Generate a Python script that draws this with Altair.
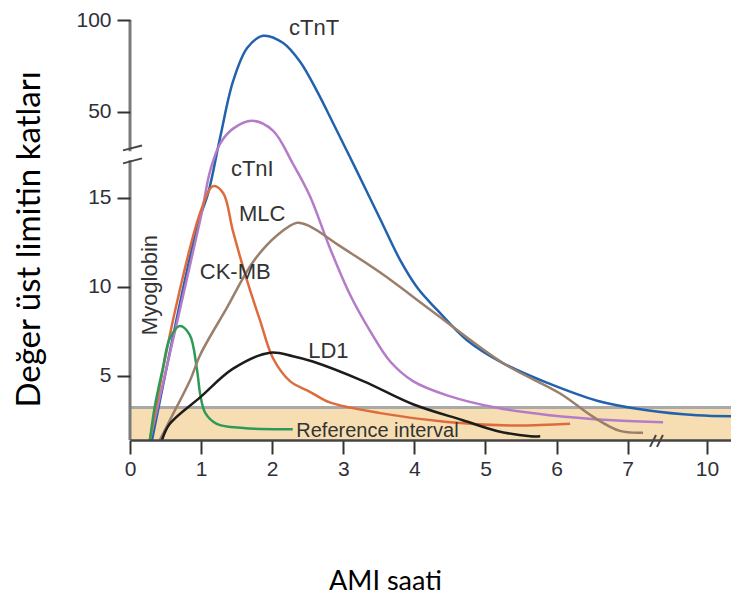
import altair as alt
import pandas as pd

# ---------------- data (hours after AMI, multiples of URL) ----------------
series_names = ["cTnT", "cTnI", "CK-MB", "Myoglobin", "MLC", "LD1"]
series_colors = ["#2262ad", "#b47cc8", "#de6b3d", "#2e9a57", "#9a7f6c", "#1c1c1c"]

ctnt_h = [0.31, 0.96, 1.10, 1.27, 1.45, 1.65, 1.87, 2.15, 2.39, 2.63, 2.84, 3.17, 3.52, 3.80, 4.05, 4.32, 4.74, 5.25, 5.87, 6.57, 7.73, 9.62, 11.2]
ctnt_v = [1.39, 13.6, 17.0, 39.9, 66.7, 84.9, 91.4, 87.6, 77.4, 61.3, 46.4, 27.1, 13.8, 11.5, 9.9, 8.7, 7.0, 5.7, 4.6, 3.6, 3.06, 2.78, 2.72]

ctni_h = [0.28, 0.99, 1.13, 1.27, 1.45, 1.72, 2.01, 2.29, 2.53, 2.81, 3.09, 3.38, 3.66, 3.98, 4.46, 5.16, 5.87, 6.79, 8.34]
ctni_v = [1.39, 13.8, 26.3, 37.2, 43.2, 46.4, 42.4, 29.0, 15.8, 12.2, 9.6, 7.5, 5.8, 4.7, 3.9, 3.2, 2.8, 2.5, 2.39]

ckmb_h = [0.28, 0.62, 0.99, 1.17, 1.31, 1.45, 1.65, 1.83, 2.01, 2.25, 2.53, 2.81, 3.52, 4.46, 5.39, 6.19]
ckmb_v = [1.39, 8.4, 14.2, 19.8, 17.0, 13.1, 10.3, 8.1, 6.0, 4.7, 4.1, 3.5, 2.9, 2.4, 2.2, 2.3]

myo_h = [0.28, 0.35, 0.46, 0.56, 0.70, 0.84, 0.94, 0.99, 1.06, 1.22, 1.59, 2.29]
myo_v = [1.39, 3.3, 5.4, 7.1, 7.8, 7.3, 5.4, 3.9, 2.9, 2.3, 2.06, 2.0]

mlc_h = [0.42, 0.56, 0.84, 0.99, 1.36, 1.73, 2.07, 2.35, 2.53, 2.95, 3.52, 4.26, 5.25, 6.05, 6.51, 6.89, 7.58]
mlc_v = [1.39, 2.5, 4.7, 6.2, 8.8, 11.4, 12.9, 13.6, 13.4, 12.3, 10.8, 8.6, 5.7, 4.0, 2.7, 1.9, 1.8]

ld1_h = [0.45, 0.56, 0.99, 1.45, 1.97, 2.29, 2.57, 3.28, 3.98, 4.68, 5.16, 5.63, 5.77]
ld1_v = [1.39, 2.3, 3.8, 5.4, 6.3, 6.1, 5.8, 4.7, 3.4, 2.5, 1.9, 1.6, 1.6]

ref_upper = 3.22

x_ticks = [0, 1, 2, 3, 4, 5, 6, 7, 10]
y_ticks = [5, 10, 15, 50, 100]

label_text = ["cTnT", "cTnI", "MLC", "CK-MB", "LD1"]
label_h = [2.59, 1.72, 1.86, 1.48, 2.79]
label_v = [92.0, 23.8, 13.7, 10.45, 6.0]

# ---------------- broken-axis transforms ----------------
D50, D100, D10 = 19.833, 25.0, 8.115
Y_MIN = 1.389
X_MAX = 8.453


def ty(v):
    if v <= 15:
        return v
    if v <= 50:
        return 15 + (v - 15) * (D50 - 15) / 35
    return D50 + (v - 50) * (D100 - D50) / 50


def tx(h):
    if h <= 7:
        return h
    return 7 + (h - 7) * (D10 - 7) / 3


rows = []
for name, hs, vs in [("cTnT", ctnt_h, ctnt_v), ("cTnI", ctni_h, ctni_v), ("CK-MB", ckmb_h, ckmb_v),
                     ("Myoglobin", myo_h, myo_v), ("MLC", mlc_h, mlc_v), ("LD1", ld1_h, ld1_v)]:
    for i, (h, v) in enumerate(zip(hs, vs)):
        rows.append({"s": name, "i": i, "x": tx(h), "y": ty(v)})
curves = pd.DataFrame(rows)

labels = pd.DataFrame({"t": label_text, "x": [tx(h) for h in label_h], "y": [ty(v) for v in label_v]})

xscale = alt.Scale(domain=[0, X_MAX], nice=False, zero=False)
yscale = alt.Scale(domain=[Y_MIN, D100], nice=False, zero=False)

xaxis = alt.Axis(
    values=[tx(v) for v in x_ticks],
    labelExpr="datum.value > 7.5 ? '10' : datum.label",
    title="AMI saati", titleFont="Lato", titleFontSize=27, titleFontWeight="normal",
    titleColor="#000", titleX=255, titleY=149, titleBaseline="alphabetic", titleAlign="center",
    labelFont="Liberation Sans", labelFontSize=21, labelColor="#2f2f3a", labelPadding=4,
    tickSize=14, tickWidth=2, tickColor="#333", domainColor="#444", domainWidth=2.5,
    grid=False, zindex=1, labelFlush=False, labelOverlap=False,
)
yaxis = alt.Axis(
    values=[ty(v) for v in y_ticks],
    labelExpr="datum.value > 22 ? '100' : datum.value > 18 ? '50' : datum.label",
    title="Değer üst limitin katları", titleFont="Lato", titleFontSize=33, titleFontWeight="normal",
    titleColor="#000", titleX=-101, titleY=219, titleBaseline="middle", titleAlign="center", titleAngle=270,
    labelFont="Liberation Sans", labelFontSize=21, labelColor="#2f2f3a", labelPadding=6,
    tickSize=13, tickWidth=2, tickColor="#333", domain=False,
    grid=False, zindex=1, labelFlush=False, labelOverlap=False,
)


def X(f="x"):
    return alt.X(f + ":Q", scale=xscale, axis=xaxis)


def Y(f="y"):
    return alt.Y(f + ":Q", scale=yscale, axis=yaxis)


band_df = pd.DataFrame({"x": [0.0], "x2": [X_MAX], "y": [Y_MIN], "y2": [ty(ref_upper)]})
band = alt.Chart(band_df).mark_rect(color="#f6deb2").encode(x=X(), x2="x2:Q", y=Y(), y2="y2:Q")
band_top = alt.Chart(band_df).mark_rule(color="#a9a9a9", strokeWidth=3).encode(x=X(), x2="x2:Q", y=Y("y2"))

lines = alt.Chart(curves).mark_line(interpolate="catmull-rom", strokeWidth=2.5).encode(
    x=X(), y=Y(),
    color=alt.Color("s:N", scale=alt.Scale(domain=series_names, range=series_colors), legend=None),
    order="i:Q",
)

text = alt.Chart(labels).mark_text(font="Liberation Sans", fontSize=22, color="#333",
                                   align="center", baseline="alphabetic").encode(x=X(), y=Y(), text="t:N")
myo_text = alt.Chart(pd.DataFrame({"t": ["Myoglobin"], "x": [tx(0.28)], "y": [10.1]})).mark_text(
    font="Liberation Sans", fontSize=22, color="#333", align="center", baseline="middle", angle=270
).encode(x=X(), y=Y(), text="t:N")
ref_text = alt.Chart(pd.DataFrame({"t": ["Reference interval"], "x": [tx(3.48)], "y": [1.55]})).mark_text(
    font="Liberation Sans", fontSize=20, color="#333", align="center", baseline="alphabetic"
).encode(x=X(), y=Y(), text="t:N")

# y axis line drawn in two pieces with a break between them
yline_df = pd.DataFrame({"x": [0.0, 0.0], "y": [Y_MIN, 17.62], "y2": [17.12, D100]})
yline = alt.Chart(yline_df).mark_rule(color="#7a7a7a", strokeWidth=3).encode(x=X(), y=Y(), y2="y2:Q")

brk_df = pd.DataFrame({
    "x": [-0.098, -0.098, 7.314, 7.412],
    "x2": [0.169, 0.169, 7.398, 7.496],
    "y": [17.67, 16.94, 1.0, 1.0],
    "y2": [17.94, 17.22, 1.667, 1.667],
})
brk = alt.Chart(brk_df).mark_rule(color="#444", strokeWidth=2).encode(x=X(), x2="x2:Q", y=Y(), y2="y2:Q")

chart = alt.layer(band, band_top, lines, text, myo_text, ref_text, yline, brk).properties(
    width=601, height=420,
    autosize=alt.AutoSizeParams(type="none"),
    padding={"left": 122, "top": 12, "right": 0, "bottom": 158},
    background="white",
).configure_view(stroke=None)

chart.save("out.html", embed_options={"renderer": "svg", "actions": False})
